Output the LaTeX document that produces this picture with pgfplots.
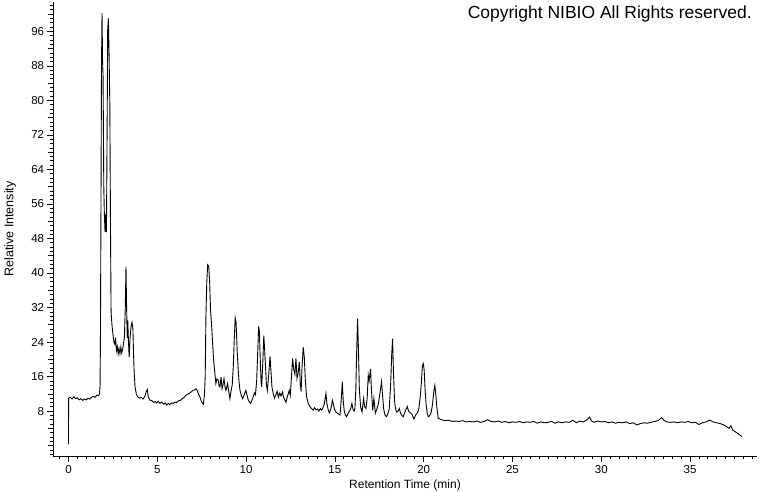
\documentclass[border=0pt]{standalone}
\usepackage{fontspec}
\setmainfont{Liberation Sans}
\usepackage{pgfplots}
\pgfplotsset{compat=1.18}
\usepackage{pgfplotstable}

% retention time (min), relative intensity
\pgfplotstableread{
t v
0.00 0.3
0.01 11.0
0.10 11.2
0.20 10.8
0.30 11.3
0.40 10.9
0.50 11.1
0.60 10.6
0.70 10.9
0.80 10.5
0.90 10.8
1.00 10.6
1.10 11.0
1.20 10.8
1.30 11.2
1.40 11.4
1.50 11.2
1.60 11.7
1.70 11.6
1.75 12.0
1.78 14.0
1.80 24.0
1.83 54.0
1.86 87.0
1.89 100.2
1.92 89.4
1.95 85.5
1.99 60.0
2.02 54.0
2.06 49.5
2.10 53.7
2.14 49.5
2.18 75.0
2.21 96.5
2.25 99.0
2.29 90.0
2.33 79.0
2.37 49.0
2.40 31.0
2.45 28.0
2.50 26.0
2.56 24.0
2.61 23.5
2.65 25.0
2.70 22.0
2.75 23.0
2.80 21.3
2.85 22.5
2.90 21.3
2.95 22.8
3.00 21.5
3.05 22.3
3.10 23.7
3.15 25.0
3.20 32.0
3.24 41.5
3.27 33.0
3.31 25.0
3.34 29.0
3.38 24.0
3.42 20.5
3.47 25.0
3.53 27.8
3.58 28.6
3.63 27.0
3.66 22.0
3.70 17.0
3.75 13.6
3.82 12.0
3.90 11.3
4.00 11.0
4.10 11.2
4.20 10.8
4.30 11.4
4.38 12.5
4.44 13.0
4.50 11.2
4.60 10.5
4.70 10.4
4.80 10.0
4.90 10.2
4.97 9.9
5.05 10.3
5.15 9.8
5.25 10.1
5.35 9.6
5.45 9.9
5.53 9.4
5.62 9.8
5.70 9.5
5.80 9.9
5.90 9.8
6.00 10.1
6.10 10.0
6.20 10.4
6.30 10.5
6.40 10.9
6.50 11.1
6.60 11.6
6.70 11.9
6.80 12.1
6.90 12.4
7.00 12.8
7.10 12.9
7.18 13.2
7.25 12.8
7.32 12.0
7.40 11.3
7.48 10.3
7.55 9.8
7.60 9.6
7.66 12.0
7.70 16.0
7.74 29.8
7.79 38.0
7.84 41.9
7.90 41.5
7.95 38.0
8.00 31.3
8.06 28.0
8.12 23.5
8.18 19.5
8.25 16.5
8.30 14.4
8.36 15.5
8.44 15.1
8.48 13.8
8.53 13.6
8.59 15.9
8.65 13.2
8.70 14.0
8.76 15.5
8.82 13.5
8.87 12.8
8.96 14.4
9.03 12.5
9.09 10.9
9.15 12.6
9.22 14.0
9.28 18.2
9.33 24.0
9.39 29.6
9.44 28.5
9.50 22.0
9.56 17.5
9.61 14.5
9.66 12.8
9.72 11.8
9.81 10.9
9.88 11.6
9.94 12.3
9.99 12.8
10.06 11.6
10.13 10.5
10.20 10.1
10.26 9.8
10.33 10.5
10.40 11.3
10.47 12.2
10.53 11.8
10.60 15.2
10.65 21.0
10.71 27.6
10.75 26.5
10.80 20.0
10.85 14.5
10.88 13.6
10.94 19.0
11.00 25.5
11.05 22.0
11.10 18.0
11.15 14.0
11.20 12.8
11.27 16.0
11.35 20.7
11.40 17.5
11.46 13.5
11.53 12.1
11.60 11.0
11.68 11.8
11.75 12.6
11.82 11.2
11.90 12.2
11.97 11.5
12.05 12.4
12.12 11.2
12.19 10.5
12.25 10.0
12.32 11.3
12.38 12.0
12.43 12.8
12.49 11.6
12.55 15.5
12.62 20.2
12.68 17.8
12.75 16.5
12.81 20.2
12.87 15.6
12.94 17.0
13.00 19.4
13.05 14.5
13.10 12.5
13.15 18.0
13.22 22.8
13.28 20.5
13.34 15.0
13.41 11.3
13.50 9.8
13.60 9.0
13.69 8.6
13.78 8.2
13.86 8.8
13.94 8.3
14.02 8.5
14.10 8.0
14.18 8.6
14.26 8.2
14.34 8.9
14.40 9.6
14.46 11.0
14.50 12.1
14.55 9.8
14.62 8.4
14.69 7.6
14.76 8.3
14.82 9.4
14.86 10.5
14.91 9.8
14.98 8.4
15.05 7.8
15.13 7.6
15.21 7.3
15.29 7.1
15.35 10.0
15.42 14.8
15.47 10.5
15.53 8.0
15.60 7.0
15.66 6.7
15.74 7.4
15.82 8.0
15.88 8.4
15.96 9.8
16.02 8.5
16.08 8.0
16.13 8.6
16.18 13.0
16.23 22.0
16.28 29.4
16.33 22.0
16.38 13.0
16.45 9.0
16.53 7.8
16.62 10.9
16.68 9.0
16.75 8.6
16.82 11.0
16.88 16.3
16.93 15.0
17.01 17.8
17.06 13.0
17.13 8.2
17.20 10.9
17.28 7.5
17.36 8.4
17.44 9.5
17.54 12.1
17.63 14.8
17.68 12.0
17.75 8.5
17.82 7.1
17.90 6.7
17.98 7.3
18.06 8.5
18.14 14.0
18.20 21.0
18.25 24.8
18.30 17.0
18.36 10.5
18.40 9.0
18.47 7.8
18.56 8.0
18.63 8.6
18.70 7.5
18.78 7.0
18.85 6.7
18.92 7.5
19.00 8.3
19.08 9.1
19.15 8.0
19.25 7.6
19.35 7.2
19.45 6.2
19.55 7.1
19.65 7.6
19.73 8.6
19.80 11.0
19.87 14.5
19.93 18.5
19.98 19.0
20.03 17.5
20.08 13.0
20.14 9.5
20.20 7.5
20.26 6.7
20.35 7.0
20.43 7.8
20.50 9.6
20.57 12.5
20.63 14.0
20.68 12.0
20.74 9.0
20.82 6.3
20.90 6.2
21.00 6.0
21.20 5.8
21.40 5.9
21.60 5.6
21.80 5.7
22.00 5.6
22.20 5.8
22.40 5.5
22.60 5.6
22.80 5.5
23.00 5.7
23.20 5.4
23.40 5.6
23.60 6.0
23.80 5.6
24.00 5.5
24.20 5.7
24.40 5.4
24.60 5.6
24.80 5.3
25.00 5.5
25.20 5.4
25.40 5.6
25.60 5.3
25.80 5.5
26.00 5.4
26.20 5.6
26.40 5.2
26.60 5.5
26.80 5.3
27.00 5.4
27.20 5.6
27.40 5.2
27.60 5.5
27.80 5.3
28.00 5.5
28.20 5.4
28.40 5.9
28.60 5.3
28.80 5.7
29.00 5.5
29.20 6.0
29.35 6.6
29.45 5.7
29.60 5.4
29.80 5.7
30.00 5.5
30.20 5.6
30.40 5.3
30.60 5.5
30.80 5.2
31.00 5.4
31.20 5.3
31.40 5.5
31.60 5.1
31.80 5.3
32.00 4.8
32.20 5.1
32.40 5.3
32.60 5.2
32.80 5.4
33.00 5.6
33.20 5.8
33.40 6.5
33.55 5.8
33.70 5.5
33.90 5.4
34.10 5.5
34.30 5.3
34.50 5.5
34.70 5.4
34.90 5.6
35.10 5.3
35.30 5.4
35.50 4.9
35.70 5.3
35.90 5.5
36.10 5.9
36.30 5.5
36.50 5.3
36.70 5.1
36.90 4.8
37.05 4.4
37.20 4.0
37.30 4.6
37.40 3.6
37.55 3.2
37.70 2.8
37.85 2.3
37.92 2.1
}\chrom

\begin{document}
\fontsize{11}{13}\selectfont
\begin{tikzpicture}
\begin{axis}[
    at={(53pt,36pt)}, anchor=south west,
    scale only axis, width=704pt, height=454pt,
    xmin=-0.87, xmax=38.77, ymin=-2.4, ymax=102.8,
    axis x line*=bottom, axis y line*=left,
    axis line style={black, line width=0.8pt},
    xtick={0,5,...,35},
    ytick={8,16,...,96},
    minor xtick={-0.5,0,...,38.5},
    minor ytick={-2,-1,...,102},
    extra y ticks={0,4,12,20,28,36,44,52,60,68,76,84,92,100},
    extra y tick labels={},
    extra y tick style={major tick length=4.5pt},
    tick align=outside,
    major tick length=6pt, minor tick length=3pt,
    every tick/.style={black, line width=0.7pt},
    tick label style={font=\fontsize{11.5}{13}\selectfont},
    yticklabel style={xshift=1pt},
    /pgf/number format/assume math mode=true,
    xlabel={Retention Time (min)},
    ylabel={Relative Intensity},
    every axis x label/.style={at={(axis description cs:0.5,-0.064)}, anchor=center,
        font=\fontsize{12}{14}\selectfont},
    every axis y label/.style={at={(axis description cs:-0.061,0.5)}, rotate=90,
        anchor=center, font=\fontsize{12.5}{14}\selectfont},
  ]
\addplot[black, line width=0.9pt, mark=none] table[x=t, y=v] {\chrom};
\end{axis}
\node[anchor=base east, font=\fontsize{17.5}{20}\selectfont, inner sep=0pt] at (752pt,473.7pt)
  {Copyright NIBIO All Rights reserved.};
\pgfresetboundingbox
\path[use as bounding box] (0,0) rectangle (760pt,492pt);
\end{tikzpicture}
\end{document}
